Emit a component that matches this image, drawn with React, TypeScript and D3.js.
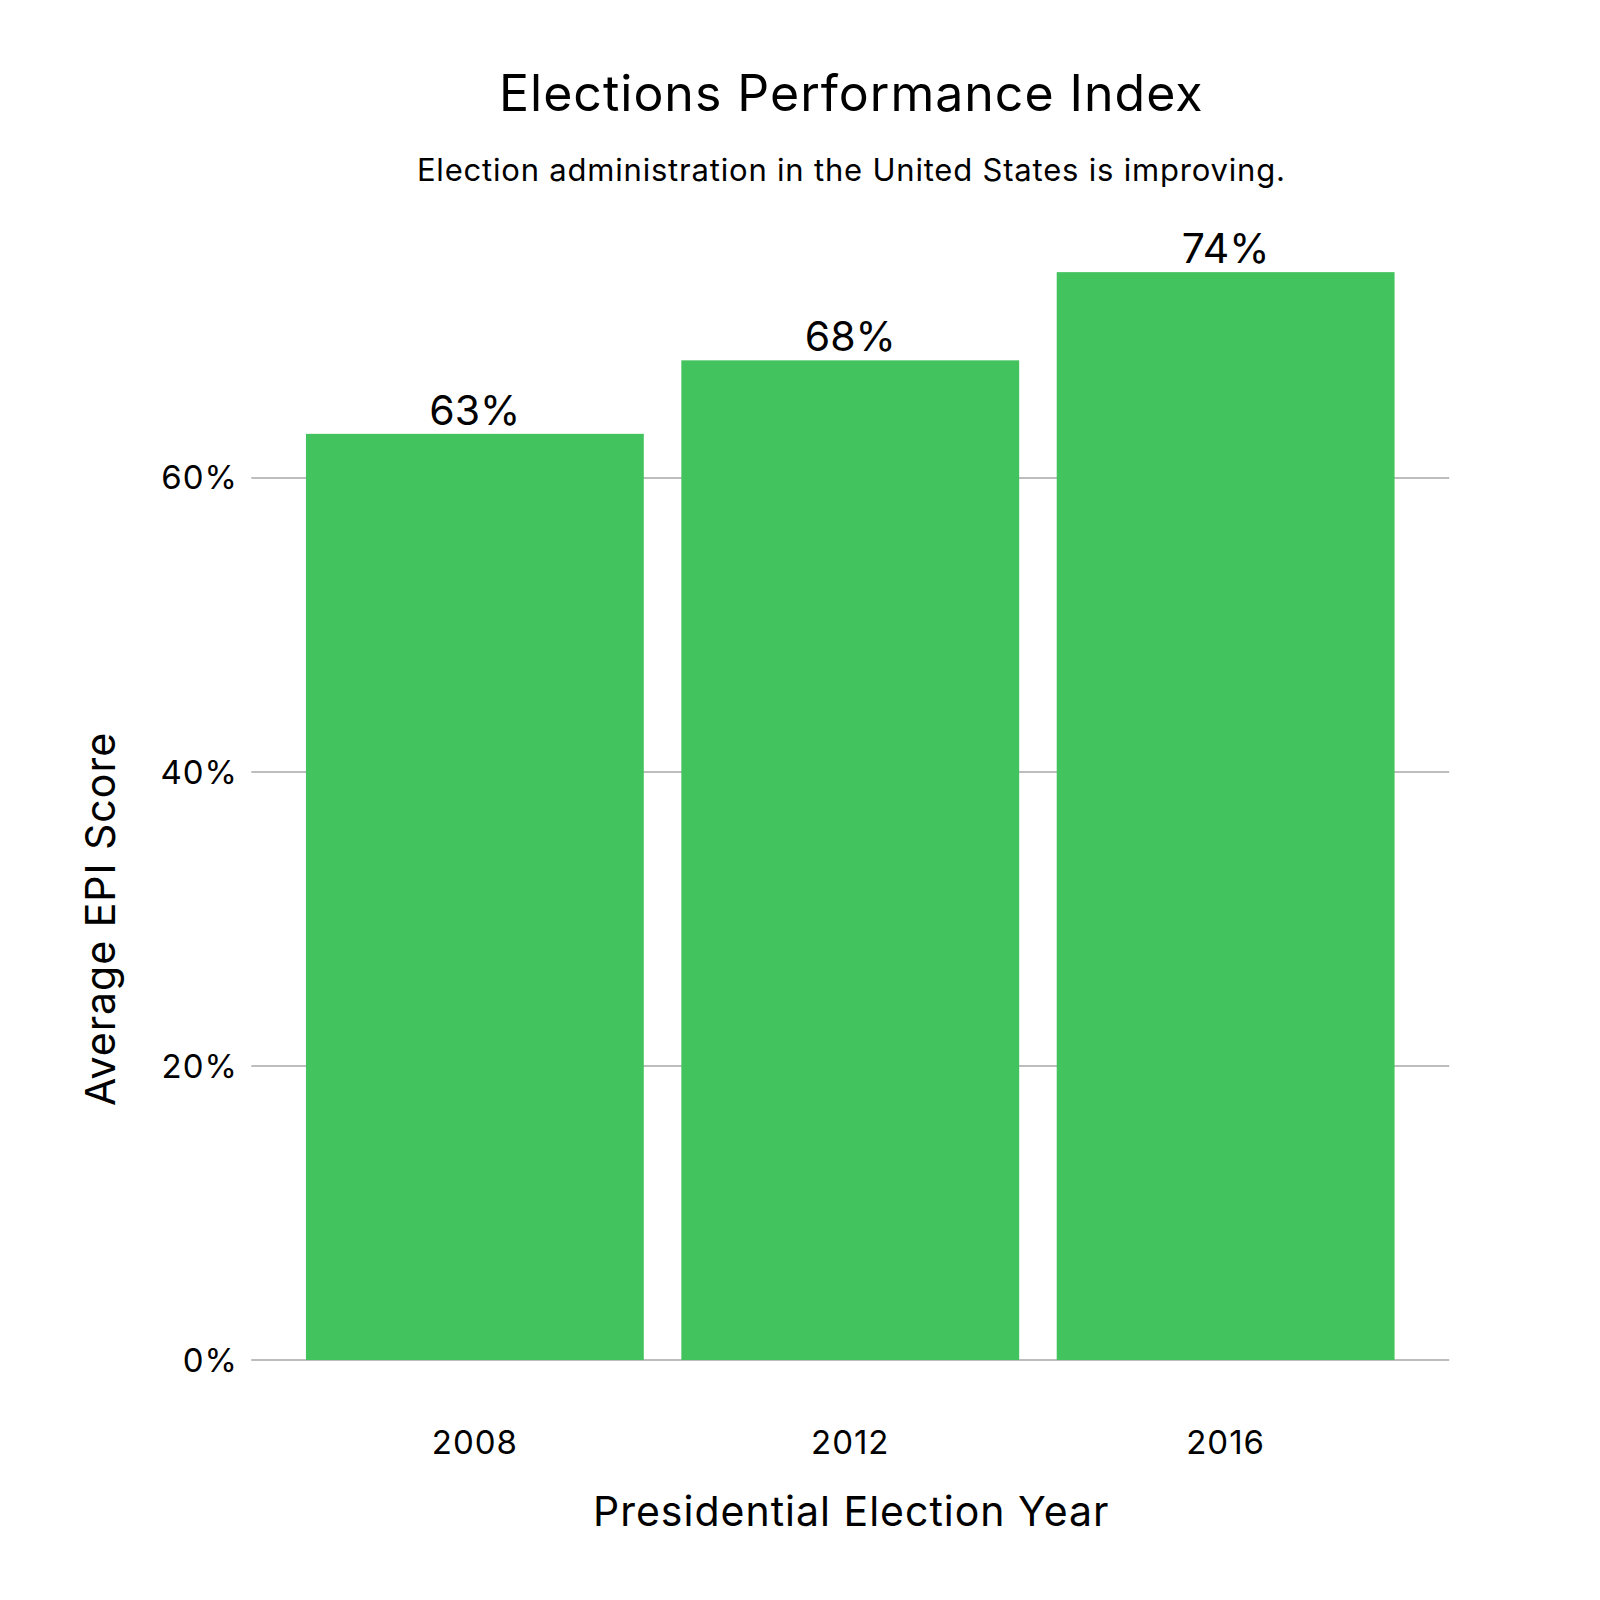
import React from "react";
import * as d3 from "d3";

const years = ["2008", "2012", "2016"];
const scores = [0.63, 0.68, 0.74];
const yTicks = [0, 0.2, 0.4, 0.6];

const font = "Inter, 'Noto Sans', sans-serif";
// layout was measured on a 1560px view of the reference
const k = 1600 / 1560;

export default function App() {
  const width = 1600,
    height = 1600;

  const x = d3
    .scaleBand<string>()
    .domain(years)
    .range([280 * k, 1378 * k])
    .paddingInner(0.1)
    .paddingOuter(0.05);

  const y = d3.scaleLinear().domain([0, 0.6]).range([1326 * k, 466 * k]);
  const pct = d3.format(".0%");
  const cx = 830 * k;

  return (
    <svg
      width={width}
      height={height}
      style={{ position: "absolute", left: 0, top: 0, background: "#fff" }}
      fontFamily={font}
    >
      <text x={cx} y={108 * k} textAnchor="middle" fontSize={50} letterSpacing={1}>
        Elections Performance Index
      </text>
      <text x={cx} y={176 * k} textAnchor="middle" fontSize={31} letterSpacing={0.8}>
        Election administration in the United States is improving.
      </text>

      {/* gridlines */}
      {yTicks.map((t) => (
        <g key={t}>
          <line x1={245 * k} x2={1413 * k} y1={y(t)} y2={y(t)} stroke="#bdbdbd" strokeWidth={2} />
          <text x={232 * k} y={y(t)} dy="0.35em" textAnchor="end" fontSize={33} letterSpacing={1}>
            {pct(t)}
          </text>
        </g>
      ))}

      {/* bars */}
      {years.map((yr, i) => (
        <g key={yr}>
          <rect
            x={x(yr)}
            y={y(scores[i])}
            width={x.bandwidth()}
            height={y(0) - y(scores[i])}
            fill="#43c35e"
          />
          <text
            x={x(yr)! + x.bandwidth() / 2}
            y={y(scores[i]) - 9}
            textAnchor="middle"
            fontSize={41}
          >
            {pct(scores[i])}
          </text>
          <text
            x={x(yr)! + x.bandwidth() / 2}
            y={1418 * k}
            textAnchor="middle"
            fontSize={33}
            letterSpacing={1}
          >
            {yr}
          </text>
        </g>
      ))}

      <text x={cx} y={1488 * k} textAnchor="middle" fontSize={41} letterSpacing={1}>
        Presidential Election Year
      </text>
      <text
        transform={`translate(${112 * k}, ${y(0.3)}) rotate(-90)`}
        textAnchor="middle"
        fontSize={41}
        letterSpacing={1}
      >
        Average EPI Score
      </text>
    </svg>
  );
}
